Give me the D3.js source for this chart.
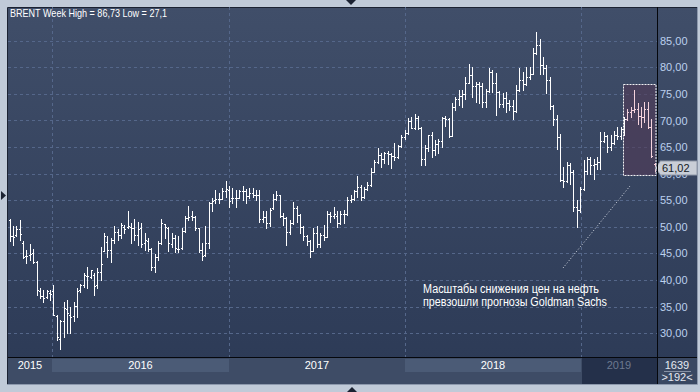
<!DOCTYPE html>
<html>
<head>
<meta charset="utf-8">
<script src="https://cdn.jsdelivr.net/npm/d3@7"></script>
<style>
  body { margin: 0; background: #c0cad8; }
  svg { display: block; font-family: Arial, "Liberation Sans", sans-serif; }
</style>
</head>
<body>
<svg id="chart"></svg>
<script>
// weekly Brent bars (first week starts 2015-10-05)
let openVals = [51.2,48.3,48.5,49.6,47.0,44.5,44.7,45.0,43.3,38.0,37.0,36.8,37.5,38.0,33.3,29.0,32.3,34.5,33.5,33.3,
  35.2,38.2,39.0,40.8,40.5,41.0,39.0,41.6,45.5,47.2,45.7,47.5,49.0,48.5,50.0,50.0,50.0,49.8,48.5,49.8,
  47.0,47.4,45.8,42.5,44.3,47.0,50.5,49.8,46.8,47.9,45.9,46.0,49.2,51.7,52.0,51.8,49.7,45.6,44.7,47.0,
  54.4,55.0,55.2,55.3,56.8,57.0,55.4,55.5,55.5,56.8,56.8,55.8,56.4,56.0,55.9,51.4,51.8,50.8,53.5,55.2,
  55.9,52.0,51.7,49.1,50.8,53.6,52.2,49.9,48.2,47.3,45.5,48.8,46.8,48.5,48.1,52.5,52.0,52.1,50.7,52.5,
  52.5,55.1,55.2,56.8,57.5,55.6,57.2,57.8,60.4,62.1,63.5,62.7,63.9,63.7,63.4,63.2,65.2,66.9,67.6,69.9,
  68.6,70.5,68.6,62.8,64.8,67.3,64.4,65.5,66.2,70.4,70.3,67.1,72.6,74.1,74.6,74.9,77.1,78.5,76.4,76.8,
  76.5,73.4,75.6,79.2,77.1,75.3,73.1,74.3,73.2,72.8,71.8,75.8,77.6,76.8,78.1,78.8,82.7,84.2,80.4,79.8,
  77.6,72.8,70.2,66.8,58.8,58.7,61.7,60.3,53.8,53.2,57.1,60.5,62.7,61.6,61.9,62.1,66.2,67.1,65.1,65.7,
  67.2,67.0,68.4,70.3,71.5,71.9,72.1,70.9,70.6,72.2,68.7,61.9];
let highVals = [51.4,50.1,50.1,51.2,47.3,45.7,46.8,45.8,43.5,38.5,38.1,38.1,38.1,39.1,33.4,32.5,35.9,36.3,35.0,35.9,
  38.5,39.2,41.3,42.4,41.9,41.3,42.2,46.3,48.8,48.2,47.9,50.1,49.5,50.7,50.4,53.0,50.7,51.4,51.0,50.8,
  48.8,47.9,46.0,44.8,47.3,51.4,50.6,50.0,48.8,48.5,48.3,49.7,52.0,54.0,52.9,52.0,49.8,46.9,50.1,54.7,
  55.4,57.0,56.4,57.3,58.6,57.6,57.3,57.0,57.0,57.6,57.1,57.3,57.3,57.0,57.0,52.9,52.9,53.5,56.2,56.7,
  56.0,52.6,51.8,51.3,54.7,54.0,52.5,50.1,48.4,47.5,49.7,50.1,48.8,50.4,52.9,52.8,53.8,53.0,53.0,53.2,
  55.7,56.0,57.0,59.6,57.9,57.5,58.5,61.0,62.6,64.8,63.8,64.1,64.2,63.8,65.8,65.3,67.3,68.3,70.4,70.7,
  71.3,70.8,68.7,65.4,67.3,67.9,66.3,66.6,70.7,70.9,70.4,73.2,74.5,75.7,75.7,78.1,80.6,80.0,77.3,77.3,
  77.0,76.0,79.8,79.5,79.0,75.5,75.1,75.4,73.8,73.8,76.6,79.8,79.2,80.1,80.1,83.6,86.7,85.4,82.0,80.4,
  78.2,72.9,71.0,67.5,61.2,62.2,62.0,60.6,55.0,57.4,62.5,63.1,63.1,62.8,63.1,67.8,67.8,67.2,67.2,68.0,
  68.8,68.8,70.7,72.2,72.5,75.7,73.2,72.5,73.5,73.5,70.3,62.0];
let lowVals = [47.3,46.6,48.2,47.6,44.1,43.2,43.8,43.2,37.2,36.6,35.9,36.6,36.3,33.4,28.7,27.1,29.3,30.0,30.0,32.2,
  33.1,37.8,38.6,38.5,40.3,37.2,38.5,40.0,45.4,44.4,43.3,47.0,47.6,47.9,48.8,49.8,47.0,47.6,46.6,46.3,
  45.7,45.4,41.9,41.6,43.8,46.8,47.9,45.4,46.3,45.3,45.3,45.8,49.0,51.3,51.3,49.4,45.3,43.7,44.5,46.0,
  52.9,54.5,54.5,55.2,55.7,53.8,54.5,53.8,55.4,55.1,54.5,55.4,55.6,55.1,51.0,51.0,49.7,50.1,53.3,55.0,
  51.9,50.4,46.6,48.6,50.5,51.0,48.8,47.5,46.6,44.4,45.4,46.3,46.2,47.5,48.0,51.0,51.6,50.0,50.5,50.7,
  52.2,54.7,55.0,55.7,55.1,55.5,57.0,57.6,60.3,62.0,61.3,62.0,61.9,61.0,62.6,63.0,65.0,66.6,67.5,68.5,
  68.4,68.4,61.6,61.6,64.3,63.2,63.5,63.8,65.0,69.0,66.9,67.0,72.0,73.0,72.6,74.0,77.0,74.5,73.5,73.2,
  72.5,72.5,75.4,75.4,71.0,72.5,72.6,71.6,71.9,70.3,71.6,75.5,75.7,76.7,77.8,78.8,82.5,78.8,78.8,75.1,
  72.2,69.1,64.7,58.7,57.5,58.4,58.1,53.0,50.0,52.8,57.0,60.0,60.0,59.0,60.9,60.9,66.0,64.1,64.5,65.5,
  66.6,66.6,67.2,70.0,70.6,71.6,69.4,68.8,69.7,68.5,63.1,60.5];
let closeVals = [48.3,48.0,49.6,48.6,44.4,44.6,44.8,43.3,38.1,37.0,36.6,37.9,37.3,33.5,29.3,32.2,34.7,33.8,33.1,35.2,
  38.0,39.0,40.9,40.7,41.8,38.8,41.6,43.1,48.2,45.7,47.5,49.0,48.5,50.3,49.5,50.2,49.8,48.5,49.6,46.8,
  47.5,45.8,42.5,44.4,47.0,50.8,49.9,46.9,47.9,46.0,45.8,49.2,51.6,51.9,51.8,49.7,45.6,44.6,46.9,54.4,
  54.9,55.2,55.3,56.8,57.1,54.8,55.5,55.5,56.8,56.8,55.8,56.4,56.0,56.0,51.4,51.8,50.8,53.2,55.2,55.9,
  52.0,51.7,49.1,50.7,53.6,52.2,49.9,48.2,47.3,45.5,48.8,46.8,48.5,48.1,52.5,52.0,52.4,50.7,52.5,52.4,
  55.1,55.2,56.8,57.5,55.6,57.2,57.8,60.4,62.1,63.5,62.7,63.9,63.7,63.4,63.2,65.2,66.9,67.6,69.9,68.6,
  70.5,68.6,62.8,64.8,67.3,64.4,65.5,66.2,70.4,70.3,67.1,72.6,74.1,74.6,74.9,77.1,78.5,76.4,76.8,76.5,
  73.4,75.6,79.2,77.1,75.3,73.1,74.3,73.2,72.8,71.8,75.8,77.6,76.8,78.1,78.8,82.7,84.2,80.4,79.8,77.6,
  72.8,70.2,66.8,58.8,58.7,61.7,60.3,53.8,53.2,57.1,60.5,62.7,61.6,61.9,62.1,66.2,67.1,65.1,65.7,67.2,
  67.0,68.4,70.3,71.5,71.9,72.1,70.9,70.6,72.2,68.7,63.3,61.02];

let yearLabels = ["2015", "2016", "2017", "2018", "2019"];
let priceTicks = [30, 35, 40, 45, 50, 55, 60, 65, 70, 75, 80, 85];
let titleText = "BRENT Week High = 86,73 Low = 27,1";
let noteLines = ["Масштабы снижения цен на нефть", "превзошли прогнозы Goldman Sachs"];
let highlightFrom = 183; // first bar in the marked box
let barCount = "1639", visibleBars = ">192<";

let width = 700, height = 392;
let plot = { left: 8, top: 7, right: 657, bottom: 357 };

let weeks = d3.utcMonday.range(new Date(Date.UTC(2015, 9, 5)), new Date(Date.UTC(2019, 5, 4)));
let bars = weeks.map((d, i) => ({
  date: d, o: openVals[i], h: highVals[i], l: lowVals[i], c: closeVals[i], i: i
}));

let svg = d3.select("#chart").attr("width", width).attr("height", height);

let defs = svg.append("defs");
let grad = defs.append("linearGradient").attr("id", "bg")
  .attr("x1", 0).attr("y1", 0).attr("x2", 0).attr("y2", 1);
grad.append("stop").attr("offset", "0%").attr("stop-color", "#404e69");
grad.append("stop").attr("offset", "100%").attr("stop-color", "#2c3a56");
defs.append("clipPath").attr("id", "plotclip").append("rect")
  .attr("x", plot.left).attr("y", plot.top)
  .attr("width", plot.right - plot.left).attr("height", plot.bottom - plot.top);

// frame
svg.append("rect").attr("x", 8).attr("y", 7).attr("width", 689).attr("height", 377)
  .attr("fill", "url(#bg)");
svg.append("path").attr("d", "M7.5,384V7.5H697").attr("fill", "none").attr("stroke", "#1b2232");
svg.append("path").attr("d", "M697.5,7V384.5H7").attr("fill", "none").attr("stroke", "#8d99ad");

// little arrow markers on the frame
svg.append("path").attr("d", "M346,0H356L351,5Z").attr("fill", "#1b2232");
svg.append("path").attr("d", "M347,392H357L352,387Z").attr("fill", "#1b2232");
svg.append("path").attr("d", "M1,191V200L6,195.5Z").attr("fill", "#1b2232");

let x = d3.scaleUtc()
  .domain([weeks[0], weeks[weeks.length - 1]])
  .range([9.5, 654.5]);
let y = d3.scaleLinear().domain([30, 85]).range([333.2, 40.7]);

let px = (d) => Math.round(x(d)) + 0.5;

// grid
svg.append("g")
  .selectAll("line")
  .data(priceTicks)
  .join("line")
  .attr("x1", plot.left).attr("x2", plot.right)
  .attr("y1", (d) => Math.round(y(d)) + 0.5).attr("y2", (d) => Math.round(y(d)) + 0.5)
  .attr("stroke", "#55678a").attr("stroke-dasharray", "3,3");

let yearStarts = yearLabels.map((t) => new Date(Date.UTC(+t, 0, 1)));
svg.append("g")
  .selectAll("line")
  .data(yearStarts.slice(1))
  .join("line")
  .attr("x1", px).attr("x2", px)
  .attr("y1", plot.top).attr("y2", plot.bottom)
  .attr("stroke", "#55678a").attr("stroke-dasharray", "3,3");

// marked box around the last bars
let hl = bars.slice(highlightFrom);
let boxL = px(hl[0].date) - 4, boxR = px(hl[hl.length - 1].date) + 0.5;
let boxT = y(d3.max(hl, (d) => d.h)) - 6, boxB = y(d3.min(hl, (d) => d.l)) + 4.5;
svg.append("rect")
  .attr("x", boxL).attr("y", Math.round(boxT) + 0.5)
  .attr("width", boxR - boxL).attr("height", Math.round(boxB - boxT))
  .attr("fill", "#523a56").attr("fill-opacity", 0.6)
  .attr("stroke", "#f2f2f4").attr("stroke-dasharray", "2,1");

// OHLC bars
svg.append("g")
  .attr("clip-path", "url(#plotclip)")
  .selectAll("path")
  .data(bars)
  .join("path")
  .attr("fill", "none")
  .attr("stroke", (d) => (d.i >= highlightFrom ? "#f4d2dc" : "#ffffff"))
  .attr("d", (d) => {
    let xc = px(d.date);
    let yo = Math.round(y(d.o)) + 0.5, yc = Math.round(y(d.c)) + 0.5;
    return "M" + xc + "," + Math.round(y(d.h)) + "V" + Math.round(y(d.l) + 1) +
      "M" + (xc - 1.5) + "," + yo + "H" + xc +
      "M" + xc + "," + yc + "H" + (xc + 1.5);
  });

// dotted pointer + note
svg.append("line")
  .attr("x1", 563).attr("y1", 268).attr("x2", 630).attr("y2", 186)
  .attr("stroke", "#d8dde6").attr("stroke-dasharray", "1,2");
let noteWidths = [176, 184];
svg.append("g")
  .selectAll("text")
  .data(noteLines)
  .join("text")
  .attr("x", 423).attr("y", (d, i) => 292.5 + i * 13)
  .attr("fill", "#ffffff").attr("font-size", "12px")
  .attr("textLength", (d, i) => noteWidths[i]).attr("lengthAdjust", "spacingAndGlyphs")
  .text((d) => d);

// title
svg.append("text").attr("x", 10).attr("y", 17)
  .attr("fill", "#ffffff").attr("font-size", "11px")
  .attr("textLength", 157).attr("lengthAdjust", "spacingAndGlyphs")
  .text(titleText);

// right price axis
let yAxis = svg.append("g")
  .attr("transform", "translate(659,0)")
  .call(d3.axisRight(y).tickValues(priceTicks).tickSize(0)
    .tickFormat((d) => d3.format(".2f")(d).replace(".", ",")));
yAxis.select(".domain").remove();
yAxis.selectAll("text").attr("x", 1).attr("fill", "#bcd0ee")
  .attr("font-size", "11px").attr("font-family", "Arial, sans-serif");

// last price tag (sits over the 60,00 label like in the source)
let last = bars[bars.length - 1];
let ty = Math.round(y(last.c));
svg.append("path")
  .attr("d", "M655," + ty + "L660," + (ty - 6) + "V" + (ty - 7) + "H697V" + (ty + 7) + "H660V" + (ty + 6) + "Z")
  .attr("fill", "#c9ced7").attr("stroke", "#8f98a8");
svg.append("text").attr("x", 662).attr("y", ty + 4)
  .attr("fill", "#151a24").attr("font-size", "11px")
  .text(d3.format(".2f")(last.c).replace(".", ","));

// time band
svg.append("rect").attr("x", 8).attr("y", 358).attr("width", 649).attr("height", 26)
  .attr("fill", "#3e4c66");
let yearSpans = yearLabels.map((t, i) => {
  let a = Math.max(plot.left, px(yearStarts[i]) - 0.5);
  let b = i + 1 < yearStarts.length ? px(yearStarts[i + 1]) - 0.5 : plot.right;
  return { label: t, a: a, b: Math.min(b, plot.right), i: i };
});
svg.append("g")
  .selectAll("rect")
  .data(yearSpans.filter((d) => d.i % 2 === 1))
  .join("rect")
  .attr("x", (d) => d.a).attr("y", 359).attr("width", (d) => d.b - d.a).attr("height", 13)
  .attr("fill", "#4b5b76");
let lastSpan = yearSpans[yearSpans.length - 1];
svg.append("rect")
  .attr("x", lastSpan.a + 1).attr("y", 358).attr("width", lastSpan.b - lastSpan.a - 1).attr("height", 26)
  .attr("fill", "#24304a");
svg.append("g")
  .selectAll("text")
  .data(yearSpans)
  .join("text")
  .attr("x", (d) => (d.a + d.b) / 2).attr("y", 369)
  .attr("text-anchor", "middle").attr("font-size", "11px")
  .attr("fill", (d) => (d.i === yearSpans.length - 1 ? "#6d798f" : "#ffffff"))
  .text((d) => d.label);

// bar counter cell
svg.append("rect").attr("x", 658).attr("y", 358).attr("width", 39).attr("height", 26)
  .attr("fill", "#3a4862");
svg.append("text").attr("x", 677).attr("y", 368.5).attr("text-anchor", "middle")
  .attr("fill", "#e4e9f2").attr("font-size", "11px").text(barCount);
svg.append("line").attr("x1", 664).attr("x2", 691).attr("y1", 371.5).attr("y2", 371.5)
  .attr("stroke", "#8792a6");
svg.append("text").attr("x", 677).attr("y", 380.5).attr("text-anchor", "middle")
  .attr("fill", "#e4e9f2").attr("font-size", "11px").text(visibleBars);

// separators
svg.append("line").attr("x1", 8).attr("x2", 697).attr("y1", 357.5).attr("y2", 357.5)
  .attr("stroke", "#05070c");
svg.append("line").attr("x1", 657.5).attr("x2", 657.5).attr("y1", 7).attr("y2", 384)
  .attr("stroke", "#05070c");
</script>
</body>
</html>
